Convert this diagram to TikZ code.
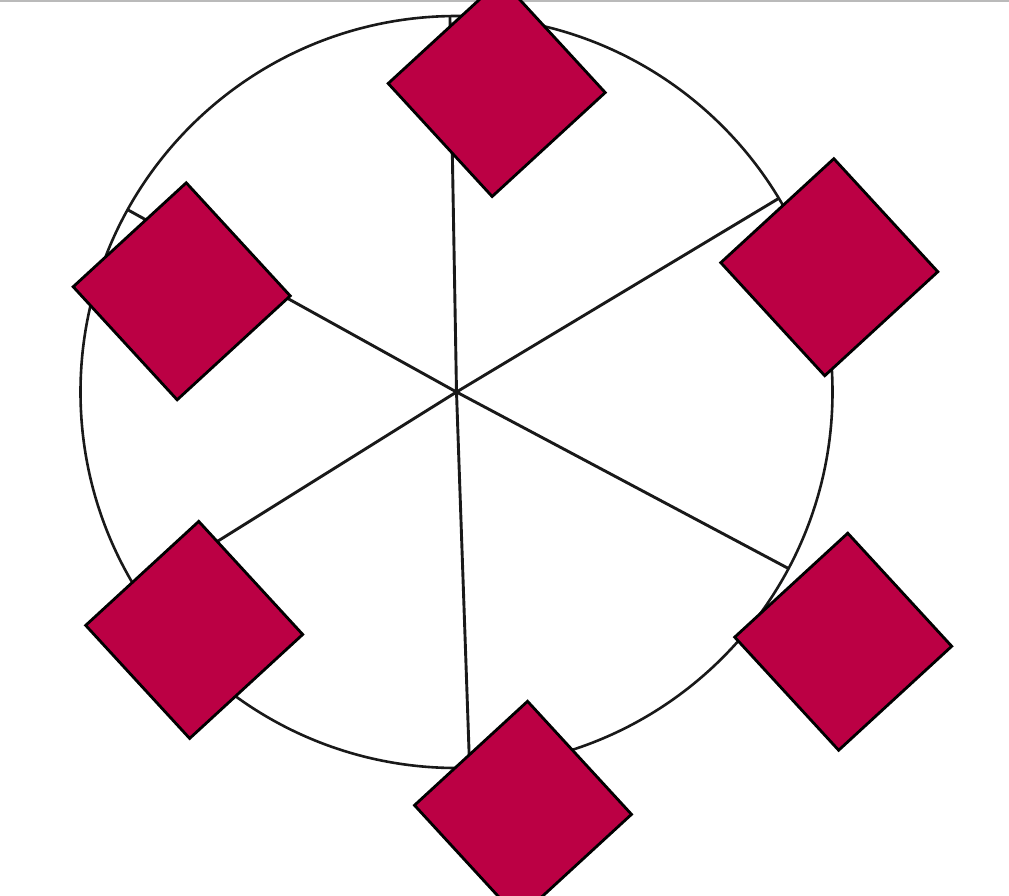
\documentclass[tikz,border=0pt]{standalone}
\usepackage{xcolor}
\usepackage{tikz}
\usetikzlibrary{positioning}

\definecolor{gemred}{RGB}{187,0,68}

\begin{document}
\begin{tikzpicture}[
  x=1pt, y=-1pt,
  rim/.style={
    circle,
    draw=black!90,
    line width=2.6pt,
    inner sep=0pt,
    outer sep=0pt,
    minimum size=752pt
  },
  spoke/.style={
    draw=black!90,
    line width=2.9pt
  },
  gem/.style={
    rectangle,
    draw=black,
    fill=gemred,
    line width=2.8pt,
    inner sep=0pt,
    minimum size=153.6pt,
    rotate=42.6
  }
]
\useasboundingbox (0,0) rectangle (1009,895);

% Top edge line
\draw[line width=2pt, draw=black!27] (0,0.5) -- (1009,0.5);

% Wheel rim and hub
\coordinate (hub) at (456.5,392);
\node[rim] (wheel) at (hub) {};

% Spokes from hub to rim
\foreach \ang in {91.8,31.8,-28.2,-88.2,-148.2,151.8}
  \draw[spoke] (hub) -- (wheel.\ang);

% Gems round the rim
\node[gem] (gtop) at (496.7,88) {};
\node[gem] (gupleft) at (181.7,291.3) {};
\node[gem] (gupright) at (829.3,267.2) {};
\node[gem] (glowleft) at (194.2,629.9) {};
\node[gem] (glowright) at (843.2,641.7) {};
\node[gem] (gbottom) at (523,809.8) {};

\end{tikzpicture}
\end{document}
